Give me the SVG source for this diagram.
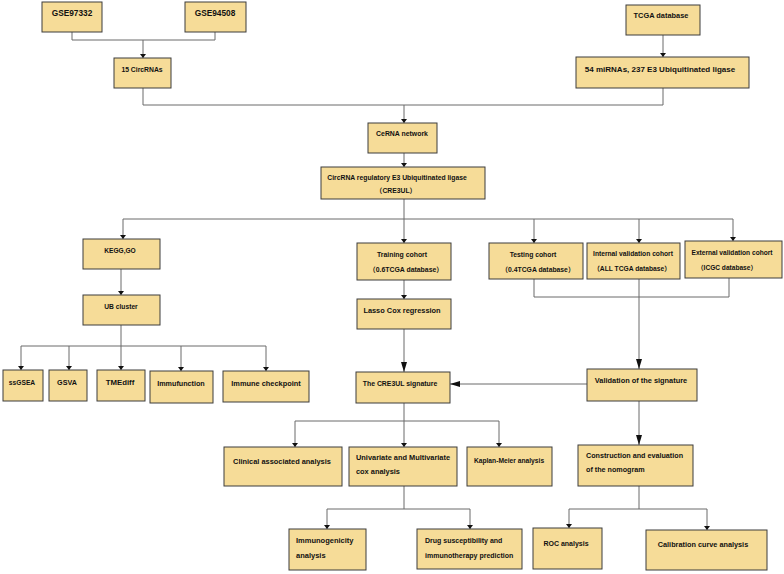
<svg xmlns="http://www.w3.org/2000/svg" width="784" height="574" viewBox="0 0 784 574">
<style>
.b{fill:#F6DC98;stroke:#3c3c3c;stroke-width:1}
.t{font-family:"Liberation Sans",Arial,"Noto Sans CJK SC",sans-serif;font-weight:bold;font-size:7.2px;fill:#111;text-anchor:middle}
.l{text-anchor:start}
.c{fill:none;stroke:#6a6a6a;stroke-width:1}
.s{marker-end:url(#ms)}
.g{marker-end:url(#mg)}
</style>
<defs>
<marker id="ms" viewBox="0 0 4 6" refX="4" refY="3" markerWidth="4" markerHeight="6" markerUnits="userSpaceOnUse" orient="auto"><path d="M0,0 L4,3 L0,6 z" fill="#111"/></marker>
<marker id="mg" viewBox="0 0 10 6" refX="10" refY="3" markerWidth="10" markerHeight="6" markerUnits="userSpaceOnUse" orient="auto"><path d="M0,0 L10,3 L0,6 z" fill="#111"/></marker>
</defs>
<rect width="784" height="574" fill="#fff"/>
<g id="connectors">
<path class="c" d="M72,32 V40 H215 V32"/>
<path class="c s" d="M143,40 V58"/>
<path class="c s" d="M663,35 V57"/>
<path class="c" d="M143,88 V105 H663 V88"/>
<path class="c s" d="M404,105 V123"/>
<path class="c s" d="M404,153 V167"/>
<path class="c" d="M404,199 V219 M123,219 H733"/>
<path class="c s" d="M123,219 V239"/>
<path class="c s" d="M404,219 V243"/>
<path class="c s" d="M534,219 V243"/>
<path class="c s" d="M639,219 V243"/>
<path class="c s" d="M733,219 V241"/>
<path class="c s" d="M121,269 V295"/>
<path class="c" d="M121,325 V346 M21,346 H266"/>
<path class="c s" d="M21,346 V370"/>
<path class="c s" d="M69,346 V370"/>
<path class="c s" d="M121,346 V370"/>
<path class="c s" d="M181,346 V371"/>
<path class="c s" d="M266,346 V371"/>
<path class="c s" d="M404,280 V299"/>
<path class="c g" d="M404,329 V372"/>
<path class="c" d="M534,279 V297 H729 V278"/>
<path class="c g" d="M639,279 V369"/>
<path class="c g" d="M587,384 H450"/>
<path class="c" d="M404,403 V421 M295,421 H499"/>
<path class="c s" d="M295,421 V447"/>
<path class="c s" d="M404,421 V447"/>
<path class="c s" d="M499,421 V447"/>
<path class="c g" d="M639,401 V445"/>
<path class="c" d="M404,486 V509 M327,509 H470"/>
<path class="c s" d="M327,509 V529"/>
<path class="c s" d="M470,509 V529"/>
<path class="c" d="M639,486 V509 M569,509 H707"/>
<path class="c s" d="M569,509 V528"/>
<path class="c s" d="M707,509 V530"/>
</g>
<g id="gse97332"><rect class="b" x="42" y="2" width="60" height="30"/><text class="t" x="72" y="16" style="font-size:8.3px">GSE97332</text></g>
<g id="gse94508"><rect class="b" x="185" y="2" width="61" height="30"/><text class="t" x="215" y="16" style="font-size:8.3px">GSE94508</text></g>
<g id="tcga"><rect class="b" x="626" y="5" width="74" height="30"/><text class="t" x="661" y="18" style="font-size:7.4px">TCGA database</text></g>
<g id="circrnas"><rect class="b" x="114" y="58" width="57" height="30"/><text class="t" x="142" y="72" style="font-size:6.8px">15 CircRNAs</text></g>
<g id="mirnas"><rect class="b" x="576" y="57" width="173" height="31"/><text class="t" x="660" y="72" style="font-size:8px">54 miRNAs, 237 E3 Ubiquitinated ligase</text></g>
<g id="cerna"><rect class="b" x="368" y="123" width="69" height="30"/><text class="t" x="402" y="136" style="font-size:6.9px">CeRNA network</text></g>
<g id="cre3ul"><rect class="b" x="321" y="167" width="164" height="32"/><text class="t" x="397" y="180" style="font-size:6.8px">CircRNA regulatory E3 Ubiquitinated ligase</text><text class="t" x="396" y="193" style="font-size:6.8px">（CRE3UL）</text></g>
<g id="kegg"><rect class="b" x="83" y="239" width="77" height="30"/><text class="t" x="120" y="253" style="font-size:6.6px">KEGG,GO</text></g>
<g id="ubcluster"><rect class="b" x="83" y="295" width="77" height="30"/><text class="t" x="121" y="309" style="font-size:6.7px">UB cluster</text></g>
<g id="training"><rect class="b" x="357" y="243" width="94" height="37"/><text class="t" x="402" y="257" style="font-size:6.9px">Training cohort</text><text class="t" x="406" y="272" style="font-size:6.9px">（0.6TCGA database）</text></g>
<g id="testing"><rect class="b" x="489" y="243" width="94" height="36"/><text class="t" x="533" y="257" style="font-size:6.8px">Testing cohort</text><text class="t" x="538" y="272" style="font-size:6.8px">（0.4TCGA database）</text></g>
<g id="internal"><rect class="b" x="587" y="243" width="93" height="36"/><text class="t" x="633" y="256" style="font-size:6.7px">Internal validation cohort</text><text class="t" x="632" y="271" style="font-size:6.7px">（ALL TCGA database）</text></g>
<g id="external"><rect class="b" x="685" y="241" width="97" height="37"/><text class="t" x="732" y="255" style="font-size:6.6px">External validation cohort</text><text class="t" x="727" y="270" style="font-size:6.6px">（ICGC database）</text></g>
<g id="lasso"><rect class="b" x="357" y="299" width="94" height="30"/><text class="t" x="402" y="313" style="font-size:7.4px">Lasso Cox regression</text></g>
<g id="ssgsea"><rect class="b" x="3" y="370" width="40" height="31"/><text class="t" x="22" y="385" style="font-size:6.7px">ssGSEA</text></g>
<g id="gsva"><rect class="b" x="49" y="370" width="38" height="31"/><text class="t" x="67" y="385">GSVA</text></g>
<g id="tmediff"><rect class="b" x="97" y="370" width="48" height="31"/><text class="t" x="120" y="385" style="font-size:7.8px">TMEdiff</text></g>
<g id="immufunction"><rect class="b" x="150" y="371" width="63" height="32"/><text class="t" x="181" y="386">Immufunction</text></g>
<g id="checkpoint"><rect class="b" x="223" y="371" width="86" height="31"/><text class="t" x="266" y="386" style="font-size:7.4px">Immune checkpoint</text></g>
<g id="signature"><rect class="b" x="356" y="372" width="94" height="31"/><text class="t" x="400" y="386" style="font-size:6.9px">The CRE3UL signature</text></g>
<g id="validation"><rect class="b" x="587" y="369" width="110" height="32"/><text class="t" x="641" y="383" style="font-size:7.4px">Validation of the signature</text></g>
<g id="clinical"><rect class="b" x="224" y="447" width="118" height="39"/><text class="t" x="282" y="464" style="font-size:7.4px">Clinical associated analysis</text></g>
<g id="univariate"><rect class="b" x="349" y="447" width="108" height="39"/><text class="t l" x="356" y="460" style="font-size:7.4px">Univariate and Multivariate</text><text class="t l" x="356" y="474" style="font-size:7.4px">cox analysis</text></g>
<g id="kaplan"><rect class="b" x="467" y="447" width="85" height="39"/><text class="t" x="509" y="463" style="font-size:6.7px">Kaplan-Meier analysis</text></g>
<g id="nomogram"><rect class="b" x="578" y="445" width="115" height="41"/><text class="t l" x="586" y="458">Construction and evaluation</text><text class="t l" x="586" y="472">of the nomogram</text></g>
<g id="immunogenicity"><rect class="b" x="289" y="529" width="77" height="41"/><text class="t l" x="296" y="543" style="font-size:7.5px">Immunogenicity</text><text class="t l" x="296" y="558" style="font-size:7.5px">analysis</text></g>
<g id="drug"><rect class="b" x="417" y="529" width="105" height="40"/><text class="t l" x="425" y="543" style="font-size:7px">Drug susceptibility and</text><text class="t l" x="425" y="558" style="font-size:7px">immunotherapy prediction</text></g>
<g id="roc"><rect class="b" x="533" y="528" width="69" height="41"/><text class="t" x="566" y="546" style="font-size:7px">ROC analysis</text></g>
<g id="calibration"><rect class="b" x="646" y="530" width="121" height="40"/><text class="t" x="703" y="547" style="font-size:7.3px">Calibration curve analysis</text></g>
</svg>
